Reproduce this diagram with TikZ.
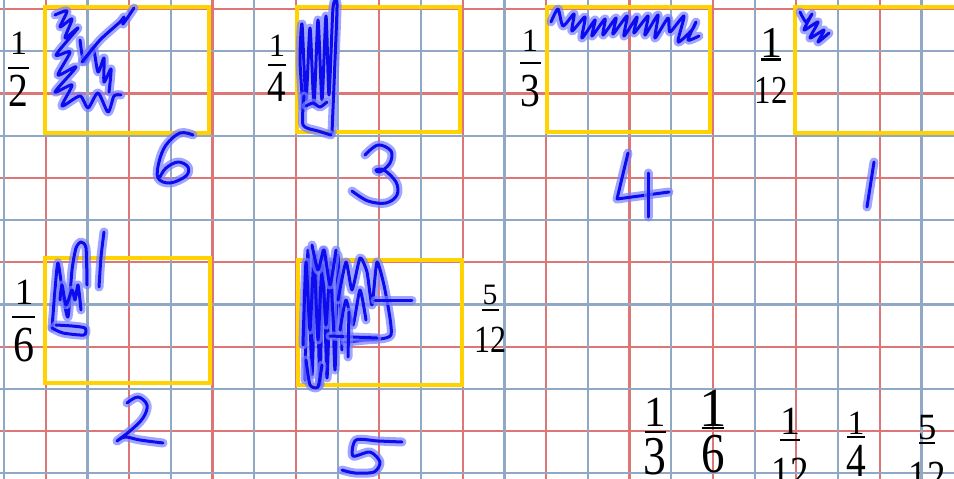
\documentclass[tikz,border=0pt]{standalone}
\usepackage{fontspec}
\setmainfont{Liberation Serif}
\usepackage{graphicx}
\definecolor{gridblue}{RGB}{145,168,196}
\definecolor{gridred}{RGB}{222,118,120}
\definecolor{boxgold}{RGB}{255,210,0}
\definecolor{inkcore}{RGB}{12,12,238}
\definecolor{inkhalo}{RGB}{120,128,255}
% #1 num, #2 den, #3 num size, #4 den size, #5 bar width, #6 gap num->bar, #7 gap bar->den
\newcommand\myfr[7]{%
  \vbox{\offinterlineskip
    \setbox0=\hbox{\fontsize{#3}{#3}\selectfont #1}%
    \setbox2=\hbox{\scalebox{1}[1.2]{\fontsize{#4}{#4}\selectfont #2}}%
    \dimen0=\wd0 \ifdim\wd2>\dimen0 \dimen0=\wd2 \fi
    \ifdim #5pt>\dimen0 \dimen0=#5pt \fi
    \hbox to\dimen0{\hss\box0\hss}%
    \kern #6pt
    \hbox to\dimen0{\hss\vrule width #5pt height 2.4pt depth 0pt\hss}%
    \kern #7pt
    \hbox to\dimen0{\hss\box2\hss}}}
\tikzset{
  gridb/.style={draw=gridblue, line width=2.2pt},
  gridr/.style={draw=gridred, line width=2.2pt},
  goldbox/.style={draw=boxgold, line width=4.5pt},
  ink/.style={draw=inkcore, line width=3pt, line cap=round, line join=round,
    preaction={draw=inkhalo, line width=9pt, opacity=0.7, line cap=round, line join=round}},
  frac/.style={inner sep=0pt, anchor=north, text=black}
}
\begin{document}
\begin{tikzpicture}[x=1pt,y=-1pt]
\useasboundingbox (0,0) rectangle (954,479);
\clip (0,0) rectangle (954,479);
\fill[white] (0,0) rectangle (954,479);
% grid
\foreach \k in {1,3,...,21} \draw[gridr] ({4+41.7*\k},0) -- ({4+41.7*\k},479);
\foreach \j in {0,2,...,10} \draw[gridr] (0,{9+42.2*\j}) -- (954,{9+42.2*\j});
\foreach \k in {0,2,...,22} \draw[gridb] ({4+41.7*\k},0) -- ({4+41.7*\k},479);
\foreach \j in {1,3,...,11} \draw[gridb] (0,{9+42.2*\j}) -- (954,{9+42.2*\j});
% boxes
\draw[goldbox] (45,7) rectangle (209,133);
\draw[goldbox] (297,7) rectangle (460,132);
\draw[goldbox] (547,7) rectangle (710,132);
\draw[goldbox] (795,7) rectangle (970,133);
\draw[goldbox] (45,258) rectangle (210,383);
\draw[goldbox] (298,260) rectangle (462,385);
% fractions
\node[frac] (fA) at (18.5,32) {\myfr{1}{2}{34}{39.5}{21}{12}{6}};
\node[frac] (fB) at (277,35) {\myfr{1}{4}{32.5}{37}{18}{7}{6}};
\node[frac] (fC) at (530,30) {\myfr{1}{3}{32.5}{39.5}{21}{10}{11}};
\node[frac] (fD) at (771,28) {\myfr{1}{12}{44}{33}{20}{1}{17}};
\node[frac] (fE) at (24,280) {\myfr{1}{6}{37}{42}{23}{11}{10}};
\node[frac] (fF) at (490,285) {\myfr{5}{12}{29.6}{32}{17}{4}{16}};
\node[frac] (fG) at (655,398) {\myfr{1}{3}{43}{45.6}{21}{4}{5}};
\node[frac] (fH) at (713,390) {\myfr{1}{6}{55}{47}{22}{0}{6}};
\node[frac] (fI) at (790,408) {\myfr{1}{12}{40}{37}{20}{4}{17}};
\node[frac] (fJ) at (856,412) {\myfr{1}{4}{34}{39.5}{18}{1}{7}};
\node[frac] (fK) at (927,415) {\myfr{5}{12}{37}{37}{16}{2}{18}};
% scribble box 1
\draw[ink] plot[smooth,tension=0.45] coordinates {(55,15) (67,11) (60,27) (72,19) (65,38) (78,28) (56,55) (70,52) (58,75) (76,67) (55,92) (72,85) (62,106) (80,96) (88,108) (98,93) (108,112) (114,96) (121,95)};
\draw[ink] plot[smooth,tension=0.45] coordinates {(80,40) (84,62) (93,48) (98,72) (104,58) (104,82) (111,69) (109,92)};
\draw[ink] plot[smooth,tension=0.4] coordinates {(82,62) (100,40) (120,22) (124,17) (123,24) (134,8)};
% scribble box 2
\draw[ink] plot[smooth,tension=0.4] coordinates {(303,108) (300,60) (302,24) (306,100) (310,28) (314,104) (318,20) (322,100) (326,16) (329,95) (333,8) (337,4) (335,60) (332,133)};
\draw[ink] plot[smooth,tension=0.4] coordinates {(304,96) (303,125) (318,131) (331,135)};
\draw[ink] plot[smooth,tension=0.4] coordinates {(306,106) (313,103) (320,107) (327,102)};
% scribble box 3
\draw[ink] plot[smooth,tension=0.4] coordinates {(551,22) (558,9) (563,26) (574,14) (572,31) (585,17) (582,38) (595,20) (592,36) (605,19) (603,35) (616,18) (613,34) (627,16) (624,36) (637,17) (634,33) (648,16) (645,35) (658,15) (655,38) (668,18) (670,32) (684,16) (678,42) (692,30) (696,22) (688,40) (699,36)};
% scribble box 4
\draw[ink] plot[smooth,tension=0.4] coordinates {(800,12) (806,22) (812,14) (804,30) (818,22) (810,38) (824,30) (818,42) (829,33)};
% scribble box 5
\draw[ink] plot[smooth,tension=0.4] coordinates {(52,328) (55,290) (58,263) (63,295) (68,317) (72,270) (76,248) (81,242) (86,248) (87,285)};
\draw[ink] plot[smooth,tension=0.4] coordinates {(60,300) (62,285) (66,305) (72,290) (75,300) (78,285) (81,310)};
\draw[ink] plot[smooth,tension=0.4] coordinates {(52,328) (63,333) (84,335) (85,328) (72,326) (56,325)};
\draw[ink] plot[smooth,tension=0.4] coordinates {(104,232) (101,257) (99,287)};
% scribble box 6
\draw[ink] plot[smooth,tension=0.35] coordinates {(305,380) (308,250) (312,375) (316,255) (320,385) (323,250) (327,378) (331,262) (335,370) (338,255) (342,350)};
\draw[ink] plot[smooth,tension=0.35] coordinates {(303,345) (306,262) (310,330) (314,258) (318,340) (322,265) (326,325) (330,270) (334,335)};
\draw[ink] plot[smooth,tension=0.35] coordinates {(338,300) (346,262) (352,290) (360,258) (367,272) (372,305) (377,262) (385,290) (391,335) (365,340) (345,342)};
\draw[ink] plot[smooth,tension=0.35] coordinates {(340,330) (346,300) (353,325) (360,290) (366,320)};
\draw[ink] (375,300) -- (412,300);
\draw[ink] (330,336) -- (377,338);
\draw[ink] (349,312) -- (348,357);
\draw[ink] plot[smooth,tension=0.35] coordinates {(312,245) (318,270) (324,250) (330,285) (336,250)};
\draw[ink] plot[smooth,tension=0.35] coordinates {(306,360) (310,385) (318,387) (322,365)};
% digits
\draw[ink] plot[smooth,tension=0.6] coordinates {(193,135) (180,133) (166,145) (159,162) (158,178) (170,183) (186,176) (188,167) (178,162) (166,168) (160,177)};
\draw[ink] plot[smooth,tension=0.6] coordinates {(365,155) (378,145) (391,151) (390,163) (380,172) (376,170) (384,170) (396,182) (397,195) (386,203) (368,201) (352,191)};
\draw[ink] (628,153) -- (617,199) -- (669,192);
\draw[ink] (648,173) -- (648,217);
\draw[ink] (874,162) -- (867,207);
\draw[ink] plot[smooth,tension=0.6] coordinates {(127,403) (138,397) (147,405) (143,418) (130,431) (117,441) (125,437) (140,440) (163,443)};
\draw[ink] plot[smooth,tension=0.5] coordinates {(402,442) (378,441) (356,440) (353,456) (370,452) (380,462) (374,472) (355,473) (342,470)};
\end{tikzpicture}
\end{document}
